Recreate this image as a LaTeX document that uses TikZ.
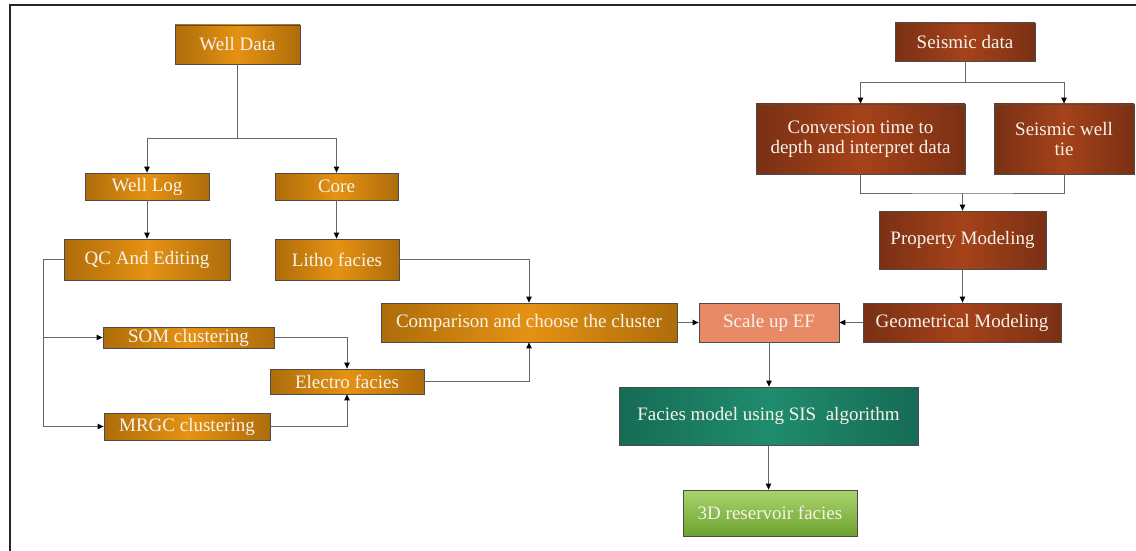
\documentclass[tikz,border=0pt]{standalone}
\usepackage{fontspec}
\setmainfont{Liberation Serif}
\usetikzlibrary{arrows.meta}
\definecolor{goldE}{HTML}{AE6C0A}
\definecolor{goldC}{HTML}{E59213}
\definecolor{brownE}{HTML}{7A3014}
\definecolor{brownC}{HTML}{A5421A}
\definecolor{tealE}{HTML}{166B55}
\definecolor{tealC}{HTML}{1F8C6E}
\definecolor{lgreenT}{HTML}{AAD46C}
\definecolor{lgreenB}{HTML}{6CA230}
\definecolor{salmon}{HTML}{E98A66}
\definecolor{txt}{HTML}{F8F3EA}
\begin{document}
\begin{tikzpicture}[x=1pt,y=-1pt,
  box/.style={draw=black!70, line width=0.8pt, text=txt, align=center, inner sep=0pt,
    font=\fontsize{19}{20}\selectfont},
  gold/.style={box, left color=goldE, right color=goldE, middle color=goldC},
  brown/.style={box, left color=brownE, right color=brownE, middle color=brownC},
  teal/.style={box, left color=tealE, right color=tealE, middle color=tealC},
  lgreen/.style={box, top color=lgreenT, bottom color=lgreenB},
  salm/.style={box, fill=salmon},
  conn/.style={draw=black!60, line width=1pt},
  arr/.style={conn, -{Triangle[length=6pt,width=5.5pt,fill=black,color=black]}}
]
\useasboundingbox (0,0) rectangle (1136,551);
\fill[white] (0,0) rectangle (1136,551);
\draw[line width=2pt, black!85] (9,5) -- (1136,5);
\draw[line width=2pt, black!85] (10,5) -- (10,551);

% nodes
\node[gold, minimum width=125, minimum height=39] (welldata) at (237.5,44.5) {Well Data};
\node[gold, minimum width=124, minimum height=27] (welllog) at (147,186.5) {Well Log};
\node[gold, minimum width=123, minimum height=27] (core) at (336.5,186.5) {Core};
\node[gold, minimum width=166, minimum height=41] (qc) at (147,259.5) {QC And Editing};
\node[gold, minimum width=124, minimum height=41] (litho) at (337,259.5) {Litho facies};
\node[gold, minimum width=171, minimum height=21] (som) at (188.5,337.5) {SOM clustering};
\node[gold, minimum width=166, minimum height=27] (mrgc) at (187,426.5) {MRGC clustering};
\node[gold, minimum width=154, minimum height=25] (electro) at (347,381.5) {Electro facies};
\node[gold, minimum width=296, minimum height=39] (comp) at (529,322.5) {Comparison and choose the cluster};
\node[salm, minimum width=140, minimum height=39] (scale) at (769,322.5) {Scale up EF};
\node[teal, minimum width=299, minimum height=58] (facies) at (768.5,416) {Facies model using SIS\ \ algorithm};
\node[lgreen, minimum width=174, minimum height=46] (res) at (770,513) {3D reservoir facies};
\node[brown, minimum width=140, minimum height=38] (seis) at (965,42) {Seismic data};
\node[brown, minimum width=209, minimum height=70] (conv) at (860.5,139) {Conversion time to\\depth and interpret data};
\node[brown, minimum width=140, minimum height=70] (tie) at (1064,139) {Seismic well\\tie};
\node[brown, minimum width=167, minimum height=58] (prop) at (962.5,240) {Property Modeling};
\node[brown, minimum width=198, minimum height=39] (geo) at (962,322.5) {Geometrical Modeling};

% connectors - well side
\coordinate (j1) at (237.5,138);
\draw[conn] (welldata.south) -- (j1);
\draw[arr] (j1) -| (welllog.north);
\draw[arr] (j1) -| (core.north);
\draw[arr] (welllog.south) -- (welllog.south |- qc.north);
\draw[arr] (core.south) -- (core.south |- litho.north);
\coordinate (bus1) at (43,337.5);
\coordinate (bus2) at (43,426.5);
\draw[conn] (qc.west) -| (bus2);
\draw[arr] (bus1) -- (som.west);
\draw[arr] (bus2) -- (mrgc.west);
\draw[arr] (som.east) -| (electro.north);
\draw[arr] (mrgc.east) -| (electro.south);
\draw[arr] (litho.east) -| (comp.north);
\draw[arr] (electro.east) -| (comp.south);
\draw[arr] (comp.east) -- (scale.west);
\draw[arr] (geo.west) -- (scale.east);
\draw[arr] (scale.south) -- (scale.south |- facies.north);
\draw[arr] (facies.south) -- (facies.south |- res.north);

% connectors - seismic side
\coordinate (j3) at (965,83);
\draw[conn] (seis.south) -- (j3);
\draw[arr] (j3) -| (conv.north);
\draw[arr] (j3) -| (tie.north);
\coordinate (j2) at (962.5,193);
\draw[conn] (conv.south) |- (j2) -| (tie.south);
\draw[arr] (j2) -- (prop.north);
\draw[arr] (prop.south) -- (prop.south |- geo.north);
\end{tikzpicture}
\end{document}
